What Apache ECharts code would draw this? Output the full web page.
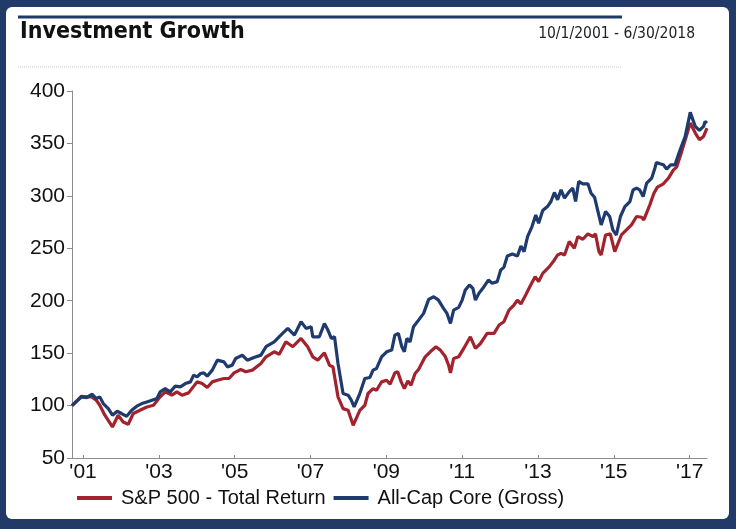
<!DOCTYPE html>
<html>
<head>
<meta charset="utf-8">
<script src="https://cdn.jsdelivr.net/npm/echarts@6/dist/echarts.min.js"></script>
<style>
  html, body { margin: 0; padding: 0; background: #213a68; }
  #chart { width: 736px; height: 529px; }
</style>
</head>
<body>
<div id="chart"></div>
<script>
// Months elapsed since 9/30/2001 (start value = 100) and growth of $100
const sp500Months = [0,3.0,4.6,6.2,7.7,8.8,10.4,12.8,14.6,16.2,
  17.8,19.4,21.5,23.7,25.8,27.9,29.5,31.6,33.2,34.8,
  36.9,39.6,41.2,42.8,44.4,46.0,48.1,49.7,51.3,53.4,
  55.0,57.1,59.8,61.4,64.0,65.6,67.7,69.9,72.5,74.6,
  76.2,77.8,79.9,81.5,82.6,84.2,85.8,87.4,89.0,91.1,
  92.7,93.7,95.3,96.4,98.0,99.6,100.7,102.2,103.1,104.2,
  105.2,106.3,107.3,108.6,109.7,111.8,113.4,115.2,116.6,118.2,
  119.2,119.8,120.8,122.4,124.0,126.1,127.7,129.3,131.4,133.6,
  135.2,136.7,138.3,139.9,141.0,142.1,143.6,145.2,146.6,147.7,
  149.0,151.1,152.7,153.7,154.8,155.9,157.4,159.0,160.1,161.7,
  163.3,164.9,165.7,166.8,167.5,168.9,170.4,171.8,172.3,173.9,
  175.5,177.1,178.7,180.3,181.0,182.9,184.2,185.3,187.2,188.8,
  190.4,191.4,193.0,194.6,195.7,197.3,198.6,199.9,201];
const sp500Values = [100,108.9,108.3,108.3,105.1,100.3,90.8,79.6,90.8,84.4,
  82.2,92.4,95.5,98.7,100.3,108.3,113.1,109.9,113.1,109.9,
  112.1,122.6,121.0,117.2,122.6,124.2,125.8,125.8,131.2,134.4,
  132.2,133.8,140.1,146.5,151.3,149.0,160.8,156.1,164.0,156.1,
  146.5,143.3,150.3,138.5,136.9,108.3,97.1,95.5,81.2,95.5,
  100.3,111.5,116.2,114.6,122.6,124.2,120.4,131.2,132.2,122.6,
  116.2,123.6,119.4,130.6,134.4,146.5,151.3,156.1,152.9,146.5,
  138.5,131.2,144.9,146.5,154.5,165.6,154.5,159.2,168.8,168.8,
  176.8,179.9,191.1,195.9,200.6,196.8,205.4,215.0,222.9,218.2,
  226.1,232.5,238.9,243.6,245.2,243.6,256.4,250.0,261.1,258.6,
  263.7,261.1,263.7,246.8,243.6,262.7,263.7,246.8,248.4,262.7,
  267.5,272.3,280.3,279.6,277.1,291.4,302.5,308.3,311.5,316.9,
  324.8,327.4,342.4,358.3,369.4,359.9,353.5,356.7,364.6];

const allCapMonths = [0,3.0,4.6,6.4,7.7,8.8,9.9,11.5,12.8,14.3,
  15.7,17.3,18.9,20.5,22.1,23.7,26.9,27.9,29.5,31.1,
  32.7,34.3,35.9,37.5,38.5,39.6,40.7,41.7,42.8,44.4,
  46.0,48.1,49.2,50.7,51.8,53.9,55.5,57.6,59.8,61.4,
  64.0,66.1,68.3,70.4,72.5,74.1,75.7,76.2,78.3,79.9,
  81.0,82.1,83.1,84.2,85.8,87.4,88.4,89.3,91.1,92.7,
  94.3,95.3,96.4,98.0,99.6,101.2,102.2,103.3,104.4,105.2,
  106.0,107.0,108.1,109.7,111.3,112.9,114.5,116.0,117.6,118.7,
  119.8,120.8,122.4,123.5,124.5,125.8,126.9,127.7,128.8,130.4,
  131.8,133.0,134.6,135.7,136.7,137.8,139.4,141.0,142.1,143.1,
  144.2,145.6,146.8,147.7,149.0,150.5,151.6,152.7,153.7,154.8,
  155.9,157.4,158.5,159.4,160.4,161.7,163.3,164.3,165.4,166.5,
  167.5,168.9,170.2,171.2,172.3,173.6,175.0,176.6,177.6,178.7,
  179.7,180.8,181.9,183.5,184.5,185.0,186.1,187.2,188.2,189.5,
  190.9,191.4,192.5,194.1,195.7,197.3,198.6,199.9,200.4,201];
const allCapValues = [100,108.3,107.6,110.8,106.7,108.3,101.9,97.1,90.8,94.6,
  92.4,89.8,95.5,99.4,101.9,103.5,106.7,113.1,116.2,113.1,
  118.5,117.8,121.0,122.6,129.0,127.4,130.6,131.2,128.0,133.8,
  143.3,141.7,136.9,138.5,144.9,148.1,143.3,145.9,148.1,156.1,
  160.8,167.2,173.6,167.2,179.9,173.6,175.2,165.6,165.6,178.3,
  172.0,164.0,165.6,140.1,111.5,109.9,105.1,98.7,111.5,125.8,
  126.8,133.8,135.4,146.5,151.3,152.9,167.2,168.8,156.1,151.3,
  164.0,160.8,175.2,181.5,187.9,201.3,203.8,200.6,192.7,187.9,
  178.3,191.1,193.6,200.6,210.2,215.0,211.8,200.6,207.0,213.4,
  219.7,216.6,218.2,229.3,231.8,242.7,244.6,242.7,252.2,246.8,
  261.1,270.7,281.8,273.9,286.0,289.8,294.6,303.2,296.2,305.7,
  297.8,304.1,307.3,294.6,313.7,311.5,311.5,302.5,298.7,285.0,
  272.3,285.0,280.3,267.5,262.7,280.3,289.8,294.6,305.7,307.3,
  305.7,299.4,312.1,316.9,326.4,331.8,330.6,329.6,325.5,329.6,
  329.6,334.4,343.9,356.7,379.6,366.2,362.4,366.2,371.0,369.4];

const xTickYears = [2001,2003,2005,2007,2009,2011,2013,2015,2017];
const yTicks = [50,100,150,200,250,300,350,400];
const seriesNames = ['S&P 500 - Total Return','All-Cap Core (Gross)'];
const titleText = 'Investment Growth';
const dateRange = '10/1/2001 - 6/30/2018';

// tick month position for each year label (year boundary following the labelled year)
const tickMonths = xTickYears.map(y => (y + 1 - 2001) * 12 - 8.5);

const chart = echarts.init(document.getElementById('chart'), null, {renderer: 'canvas'});
const SANS = '"Liberation Sans", Arial, sans-serif';
const NARROW = '"Liberation Sans Narrow", "Arial Narrow", "DejaVu Sans Condensed", "Liberation Sans", sans-serif';

chart.setOption({
  backgroundColor: '#213a68',
  animation: false,
  graphic: [
    {type: 'rect', shape: {x: 6, y: 7, width: 723, height: 512, r: 6}, style: {fill: '#ffffff'}, z: -10},
    {type: 'line', shape: {x1: 18, y1: 17, x2: 622, y2: 17}, style: {stroke: '#1f3864', lineWidth: 3}},
    {type: 'line', shape: {x1: 18, y1: 67, x2: 622, y2: 67}, style: {stroke: '#c8c8c8', lineWidth: 1, lineDash: [1, 1]}},
    {type: 'text', left: 20, top: 21, style: {text: titleText, fontFamily: NARROW, fontWeight: 'bold', fontSize: 23, fill: '#111'}},
    {type: 'text', right: 41, top: 26, style: {text: dateRange, fontFamily: NARROW, fontSize: 15.5, fill: '#222'}}
  ],
  grid: {left: 72, right: 29, top: 91, bottom: 71, containLabel: false},
  legend: {
    left: 77, top: 488, padding: 0,
    itemWidth: 35, itemHeight: 4, itemGap: 8,
    icon: 'rect',
    textStyle: {fontFamily: SANS, fontSize: 20, color: '#111', padding: [0, 0, 0, 4]},
    data: seriesNames
  },
  xAxis: {
    type: 'value', min: 0, max: 201,
    axisLine: {lineStyle: {color: '#8c8c8c', width: 1}},
    axisTick: {show: true, inside: true, length: 3, lineStyle: {color: '#8c8c8c'}, customValues: tickMonths},
    axisLabel: {
      customValues: tickMonths, margin: 4,
      fontFamily: SANS, fontSize: 21, color: '#111',
      formatter: v => {
        const i = tickMonths.findIndex(t => Math.abs(t - v) < 0.01);
        return i >= 0 ? "'" + String(xTickYears[i]).slice(2) : '';
      }
    },
    splitLine: {show: false}
  },
  yAxis: {
    type: 'value', min: yTicks[0], max: yTicks[yTicks.length - 1], interval: 50,
    axisLine: {show: true, lineStyle: {color: '#8c8c8c', width: 1}},
    axisTick: {show: true, length: 5, lineStyle: {color: '#8c8c8c'}},
    axisLabel: {fontFamily: SANS, fontSize: 21, color: '#111', margin: 7},
    splitLine: {show: false}
  },
  series: [
    {
      name: seriesNames[0], type: 'line', showSymbol: false, symbol: 'none',
      lineStyle: {color: '#a2232e', width: 3.2}, itemStyle: {color: '#a2232e'},
      data: sp500Months.map((m, i) => [m, sp500Values[i]])
    },
    {
      name: seriesNames[1], type: 'line', showSymbol: false, symbol: 'none',
      lineStyle: {color: '#1f3a6e', width: 3.2}, itemStyle: {color: '#1f3a6e'},
      data: allCapMonths.map((m, i) => [m, allCapValues[i]])
    }
  ]
});
</script>
</body>
</html>
